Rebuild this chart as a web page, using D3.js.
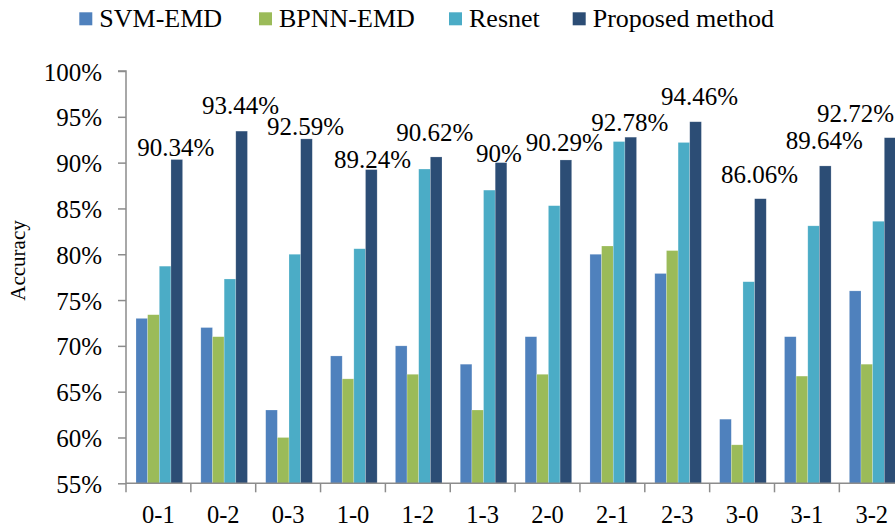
<!DOCTYPE html>
<html><head><meta charset="utf-8">
<script src="https://cdn.jsdelivr.net/npm/d3@7"></script>
<style>
html,body{margin:0;padding:0;background:#fff;overflow:hidden}
svg{display:block}
svg text{font-family:"Liberation Serif","Times New Roman",serif !important}
</style></head>
<body>
<script>
// ---- data ----
const categories = ["0-1","0-2","0-3","1-0","1-2","1-3","2-0","2-1","2-3","3-0","3-1","3-2"];
const seriesNames = ["SVM-EMD","BPNN-EMD","Resnet","Proposed method"];
const svmEmd   = [73, 72, 63, 68.9, 70, 68, 71, 80, 77.9, 62, 71, 76];
const bpnnEmd  = [73.4, 71, 60, 66.4, 66.9, 63, 66.9, 80.9, 80.4, 59.2, 66.7, 68];
const resnet   = [78.7, 77.3, 80, 80.6, 89.3, 87, 85.3, 92.3, 92.2, 77, 83.1, 83.6];
const proposed = [90.34, 93.44, 92.59, 89.24, 90.62, 90, 90.29, 92.78, 94.46, 86.06, 89.64, 92.72];
const yTicks = [55, 60, 65, 70, 75, 80, 85, 90, 95, 100];
const yLabel = "Accuracy";

// ---- layout / style (not data) ----
const colors = ["#4F81BD", "#9BBB59", "#4BACC6", "#2C4D75"];
const labelLift = [4, 17, 3.5, 1.3, 16.3, 1, 9.3, 6.2, 16.8, 16, 16.7, 16.1]; // manual label placement
const labelShift = [-1, -1, -1, 1.3, -1.3, -2, -1.7, -1, 4, -1, -1, 0];
const legendTextX = [99.3, 279, 469, 592.7];

const W = 895, H = 528;
const svg = d3.select("body").append("svg").attr("width", W).attr("height", H)
  .attr("font-family", "Liberation Serif");

const left = 126, catW = 64.85;
const x0 = d3.scaleBand().domain(categories).range([left, left + catW * categories.length]).padding(0);
const x1 = d3.scaleBand().domain(seriesNames).range([10, 56.6]).padding(0);
const y = d3.scaleLinear().domain([55, 100]).range([483.3, 71]);

const series = [svmEmd, bpnnEmd, resnet, proposed];
const rows = categories.map((c, i) => ({cat: c, vals: series.map((s, k) => ({name: seriesNames[k], v: s[i], k}))}));

// bars
const g = svg.append("g");
g.selectAll("g.cat").data(rows).join("g").attr("class", "cat")
  .attr("transform", d => `translate(${x0(d.cat)},0)`)
  .selectAll("rect").data(d => d.vals).join("rect")
  .attr("x", d => x1(d.name))
  .attr("width", x1.bandwidth())
  .attr("y", d => y(d.v))
  .attr("height", d => y(55) - y(d.v))
  .attr("fill", d => colors[d.k])
  .attr("stroke", "rgba(255,255,255,0.35)")
  .attr("stroke-width", 0.6);

// axes
const axisColor = "#8C8C8C";
const yAxis = svg.append("g").attr("transform", `translate(${left},0)`)
  .call(d3.axisLeft(y).tickValues(yTicks).tickSize(8).tickPadding(0).tickFormat(d => d + "%"));
yAxis.attr("font-family", "Liberation Serif");
yAxis.select(".domain").attr("stroke", axisColor).attr("stroke-width", 1.5).attr("d", `M-8,${y(100)}H0V${y(55)}`);
yAxis.selectAll(".tick line").attr("stroke", axisColor).attr("stroke-width", 1.5);
yAxis.selectAll(".tick text").attr("font-size", 25)
  .attr("fill", "#000").attr("x", -24).attr("dy", "0.36em");

const xAxis = svg.append("g").attr("transform", `translate(0,${y(55)})`)
  .call(d3.axisBottom(x0).tickSize(0).tickPadding(0));
xAxis.attr("font-family", "Liberation Serif");
xAxis.select(".domain").attr("stroke", axisColor).attr("stroke-width", 1.5)
  .attr("d", `M${left},0H${W + 20}`);
xAxis.selectAll(".tick text").attr("font-size", 24.5)
  .attr("fill", "#000").attr("y", 39.3).attr("dy", 0);
// category boundary ticks
const bounds = d3.range(categories.length + 1).map(i => left + i * catW);
xAxis.selectAll("line.bt").data(bounds).join("line").attr("class", "bt")
  .attr("x1", d => d).attr("x2", d => d).attr("y1", 0).attr("y2", 9)
  .attr("stroke", axisColor).attr("stroke-width", 1.5);

// value labels on proposed bars
const lbl = svg.append("g").selectAll("text").data(categories).join("text")
  .attr("font-size", 25).attr("fill", "#000").attr("text-anchor", "middle")
  .attr("x", (c, i) => x0(c) + x1(seriesNames[3]) + x1.bandwidth() / 2 + labelShift[i])
  .attr("y", (c, i) => y(proposed[i]) - labelLift[i])
  .text((c, i) => d3.format("")(proposed[i]) + "%");
// keep labels inside the picture
lbl.each(function() {
  const b = this.getBBox();
  if (b.x + b.width > W - 1) {
    const cx = +d3.select(this).attr("x");
    d3.select(this).attr("x", cx - (b.x + b.width - (W - 1)));
  }
});

// y label
svg.append("text").attr("transform", `translate(25,260.5) rotate(-90)`)
  .attr("text-anchor", "middle").attr("font-size", 21).attr("fill", "#000").text(yLabel);

// legend
const leg = svg.append("g").selectAll("g").data(seriesNames).join("g");
leg.append("rect").attr("x", (d, i) => legendTextX[i] - 20).attr("y", 12.3)
  .attr("width", 13).attr("height", 13).attr("fill", (d, i) => colors[i]);
leg.append("text").attr("x", (d, i) => legendTextX[i]).attr("y", 27.3)
  .attr("font-size", 26).attr("fill", "#000").text(d => d);
</script>
</body></html>
